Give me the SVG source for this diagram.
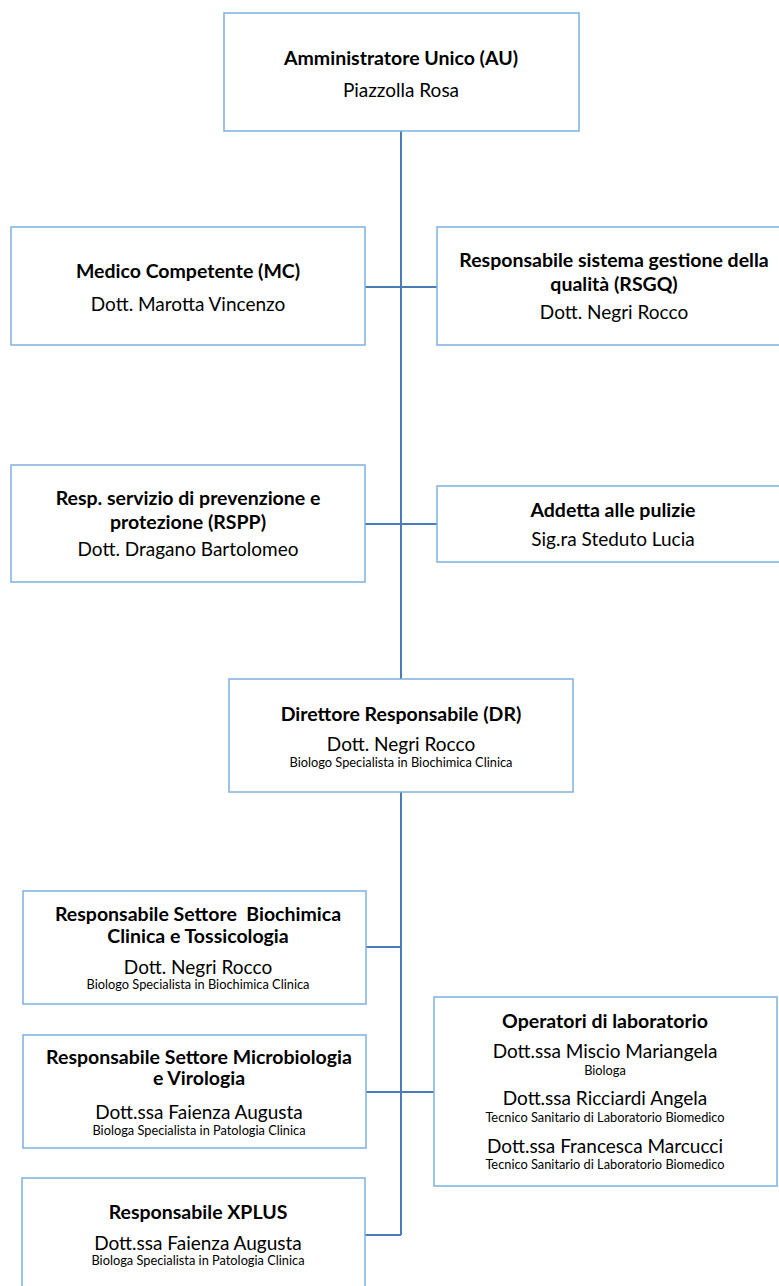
<svg xmlns="http://www.w3.org/2000/svg" width="779" height="1286" viewBox="0 0 779 1286">
<style>
.box{fill:#fff;stroke:#7eb0e0;stroke-width:1.5}
.c{fill:none;stroke:#4a7db8;stroke-width:2}
text{font-family:Lato,"Liberation Sans",sans-serif;fill:#000;text-anchor:middle}
.t{font-weight:bold;font-size:19.5px}
.n{font-size:19px}
.s{font-size:12.8px}
</style>
<rect width="779" height="1286" fill="#fff"/>
<g id="connectors">
<path class="c" d="M401 131V1235"/>
<path class="c" d="M365 287H437"/>
<path class="c" d="M365 524H437"/>
<path class="c" d="M366 947H401"/>
<path class="c" d="M366 1092H434"/>
<path class="c" d="M365 1235H401"/>
</g>
<g id="au">
<rect class="box" x="224" y="13" width="355" height="118"/>
<text class="t" x="401" y="65">Amministratore Unico (AU)</text>
<text class="n" x="401" y="97">Piazzolla Rosa</text>
</g>
<g id="mc">
<rect class="box" x="11" y="227" width="354" height="118"/>
<text class="t" x="188" y="278">Medico Competente (MC)</text>
<text class="n" x="188" y="311">Dott. Marotta Vincenzo</text>
</g>
<g id="rsgq">
<rect class="box" x="437" y="227" width="360" height="118"/>
<text class="t" x="614" y="267">Responsabile sistema gestione della</text>
<text class="t" x="614" y="291">qualità (RSGQ)</text>
<text class="n" x="614" y="319">Dott. Negri Rocco</text>
</g>
<g id="rspp">
<rect class="box" x="11" y="465" width="354" height="117"/>
<text class="t" x="188" y="505">Resp. servizio di prevenzione e</text>
<text class="t" x="188" y="529">protezione (RSPP)</text>
<text class="n" x="188" y="556">Dott. Dragano Bartolomeo</text>
</g>
<g id="addetta">
<rect class="box" x="437" y="486" width="360" height="76"/>
<text class="t" x="613" y="517">Addetta alle pulizie</text>
<text class="n" x="613" y="546">Sig.ra Steduto Lucia</text>
</g>
<g id="dr">
<rect class="box" x="229" y="679" width="344" height="113"/>
<text class="t" x="401" y="721">Direttore Responsabile (DR)</text>
<text class="n" x="401" y="751">Dott. Negri Rocco</text>
<text class="s" x="401" y="767">Biologo Specialista in Biochimica Clinica</text>
</g>
<g id="biochimica">
<rect class="box" x="23" y="891" width="343" height="113"/>
<text class="t" x="198" y="921" xml:space="preserve">Responsabile Settore  Biochimica</text>
<text class="t" x="198" y="943">Clinica e Tossicologia</text>
<text class="n" x="198" y="974">Dott. Negri Rocco</text>
<text class="s" x="198" y="989">Biologo Specialista in Biochimica Clinica</text>
</g>
<g id="microbiologia">
<rect class="box" x="23" y="1035" width="343" height="113"/>
<text class="t" x="199" y="1064">Responsabile Settore Microbiologia</text>
<text class="t" x="199" y="1085">e Virologia</text>
<text class="n" x="199" y="1119">Dott.ssa Faienza Augusta</text>
<text class="s" x="199" y="1135">Biologa Specialista in Patologia Clinica</text>
</g>
<g id="xplus">
<rect class="box" x="22" y="1178" width="343" height="120"/>
<text class="t" x="198" y="1219">Responsabile XPLUS</text>
<text class="n" x="198" y="1250">Dott.ssa Faienza Augusta</text>
<text class="s" x="198" y="1265">Biologa Specialista in Patologia Clinica</text>
</g>
<g id="operatori">
<rect class="box" x="434" y="997" width="343" height="189"/>
<text class="t" x="605" y="1028">Operatori di laboratorio</text>
<text class="n" x="605" y="1058">Dott.ssa Miscio Mariangela</text>
<text class="s" x="605" y="1075">Biologa</text>
<text class="n" x="605" y="1105">Dott.ssa Ricciardi Angela</text>
<text class="s" x="605" y="1122">Tecnico Sanitario di Laboratorio Biomedico</text>
<text class="n" x="605" y="1153">Dott.ssa Francesca Marcucci</text>
<text class="s" x="605" y="1169">Tecnico Sanitario di Laboratorio Biomedico</text>
</g>
</svg>
